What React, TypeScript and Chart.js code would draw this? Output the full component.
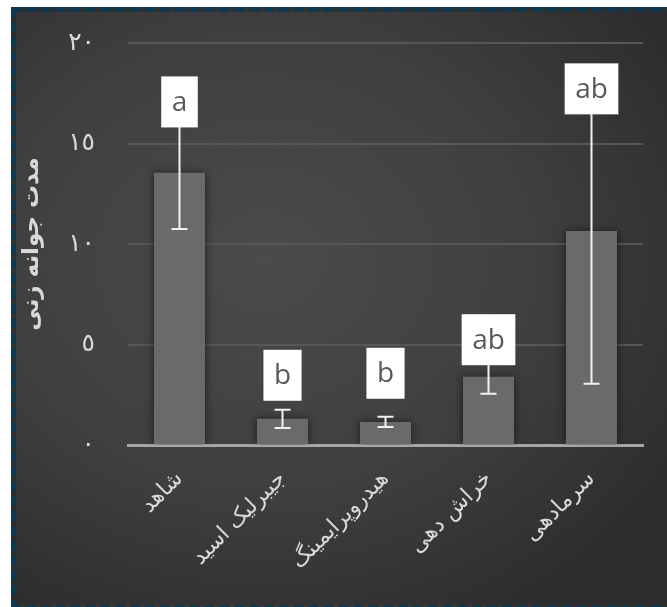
import React, { useEffect, useRef } from 'react';
import { Chart, registerables } from 'chart.js';

Chart.register(...registerables);

const categories = ['شاهد', 'جیبرلیک اسید', 'هیدروپرایمینگ', 'خراش دهی', 'سرمادهی'];
const means = [13.55, 1.3, 1.15, 3.4, 10.65];
const errors = [2.8, 0.45, 0.25, 0.85, 7.6];
const groupLetters = ['a', 'b', 'b', 'ab', 'ab'];
const letterAnchors = [15.8, 2.2, 2.3, 3.97, 16.45];
const yTickValues = [0, 5, 10, 15, 20];
const yTickLabels = ['٠', '٥', '١٠', '١٥', '٢٠'];
const yTitle = 'مدت جوانه زنی';

const errorLetterPlugin = {
  id: 'errorLetters',
  beforeDatasetsDraw(chart: any) {
    const ctx = chart.ctx;
    ctx.save();
    ctx.shadowColor = 'rgba(0,0,0,0.6)';
    ctx.shadowBlur = 9;
  },
  afterDatasetsDraw(chart: any) {
    const ctx = chart.ctx;
    ctx.restore();
    const meta = chart.getDatasetMeta(0);
    const y = chart.scales.y;
    ctx.save();
    meta.data.forEach((bar: any, i: number) => {
      const x = bar.x;
      const top = y.getPixelForValue(means[i] + errors[i]);
      const bot = y.getPixelForValue(means[i] - errors[i]);
      ctx.strokeStyle = '#f2f2f2';
      ctx.lineWidth = 2;
      ctx.beginPath();
      ctx.moveTo(x, top);
      ctx.lineTo(x, bot);
      ctx.moveTo(x - 8, top);
      ctx.lineTo(x + 8, top);
      ctx.moveTo(x - 8, bot);
      ctx.lineTo(x + 8, bot);
      ctx.stroke();
    });
    meta.data.forEach((bar: any, i: number) => {
      const x = bar.x;
      ctx.font = '28px "Open Sans"';
      const w = ctx.measureText(groupLetters[i]).width + 21;
      const h = 51;
      const by = y.getPixelForValue(letterAnchors[i]);
      ctx.fillStyle = '#ffffff';
      ctx.fillRect(x - w / 2, by - h, w, h);
      ctx.fillStyle = '#595959';
      ctx.textAlign = 'center';
      ctx.textBaseline = 'middle';
      ctx.fillText(groupLetters[i], x, by - h / 2 + 1);
    });
    ctx.restore();
  },
};

export default function App() {
  const ref = useRef<HTMLCanvasElement>(null);
  useEffect(() => {
    if (!ref.current) return;
    const chart = new Chart(ref.current, {
      type: 'bar',
      data: {
        labels: categories,
        datasets: [
          {
            data: means,
            backgroundColor: '#6a6a6a',
            borderWidth: 0,
            categoryPercentage: 1,
            barPercentage: 0.495,
          },
        ],
      },
      options: {
        animation: false,
        responsive: true,
        maintainAspectRatio: false,
        layout: { padding: { top: 31, right: 28, left: 0, bottom: 0 } },
        plugins: {
          legend: { display: false },
          tooltip: { enabled: false },
        },
        scales: {
          x: {
            grid: { display: false },
            border: { display: true, color: '#a6a6a6', width: 3 },
            ticks: {
              color: '#d9d9d9',
              font: { family: '"DejaVu Sans"', size: 22 },
              minRotation: 45,
              maxRotation: 45,
              padding: 13,
            },
            afterFit(scale: any) {
              scale.height = 160;
              scale.paddingLeft = 0;
              scale.paddingRight = 0;
            },
          },
          y: {
            min: 0,
            max: 20,
            afterBuildTicks(scale: any) {
              scale.ticks = yTickValues.map((v) => ({ value: v }));
            },
            grid: {
              drawTicks: false,
              color: (c: any) => (c.tick && c.tick.value === 0 ? 'rgba(0,0,0,0)' : '#575757'),
              lineWidth: 2,
            },
            border: { display: false },
            ticks: {
              color: '#d9d9d9',
              font: { family: '"DejaVu Sans"', size: 25 },
              padding: 33,
              callback: (v: any) => yTickLabels[yTickValues.indexOf(Number(v))],
            },
            title: {
              display: true,
              text: yTitle,
              color: '#d9d9d9',
              font: { family: '"DejaVu Sans"', size: 23, weight: 'bold' },
              padding: { top: 2, bottom: 0 },
            },
            afterFit(scale: any) {
              scale.width = 112;
              scale.paddingTop = 0;
              scale.paddingBottom = 0;
            },
          },
        },
      },
      plugins: [errorLetterPlugin],
    });
    return () => chart.destroy();
  }, []);

  return (
    <div
      style={{
        position: 'fixed',
        left: 0,
        top: 0,
        width: 667,
        height: 607,
        overflow: 'hidden',
        background: '#ffffff',
      }}
    >
      <div
        style={{
          position: 'absolute',
          left: 11,
          top: 7,
          width: 655,
          height: 593,
          border: '5px dashed #0e3a4f',
          background: 'radial-gradient(ellipse 75% 70% at 38% 42%, #4b4b4b 0%, #3f3f3f 55%, #2c2c2c 100%)',
        }}
      >
        <div style={{ position: 'relative', width: 655, height: 593 }}>
          <canvas ref={ref} />
        </div>
      </div>
    </div>
  );
}
